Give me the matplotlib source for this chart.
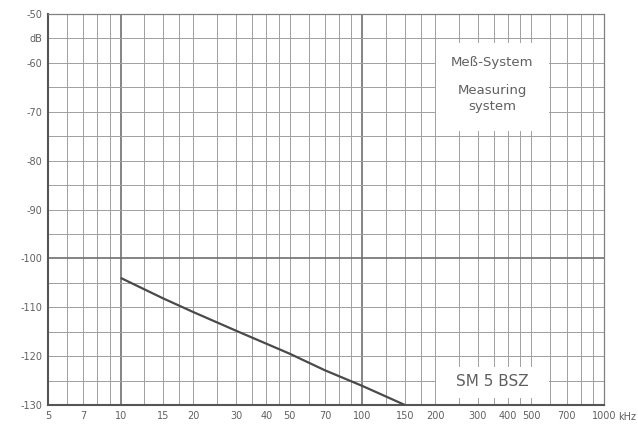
import matplotlib
matplotlib.use("Agg")
import matplotlib.pyplot as plt
from matplotlib.patches import Rectangle

# ---- data ----
freq_khz = [10, 15, 20, 30, 50, 70, 100, 150]
level_db = [-104.0, -108.2, -111.0, -114.8, -119.5, -122.9, -126.1, -130.0]

x_tick_vals = [5, 7, 10, 15, 20, 30, 40, 50, 70, 100, 150, 200, 300, 400, 500, 700, 1000]
x_tick_labels = ["5", "7", "10", "15", "20", "30", "40", "50", "70", "100", "150",
                 "200", "300", "400", "500", "700", "1000"]
x_grid_vals = [6, 7, 8, 9, 10, 12.5, 15, 17.5, 20, 25, 30, 35, 40, 45, 50, 60, 70, 80, 90,
               100, 125, 150, 175, 200, 250, 300, 350, 400, 450, 500, 600, 700, 800, 900]
y_tick_vals = list(range(-130, -45, 5))
y_tick_labels = ["-130", "", "-120", "", "-110", "", "-100", "", "-90", "", "-80", "",
                 "-70", "", "-60", "dB", "-50"]

label1_top = "Meß-System"
label1_bottom = "Measuring\nsystem"
label2 = "SM 5 BSZ"

# ---- figure ----
fig = plt.figure(figsize=(6.38, 4.24), dpi=100)
ax = fig.add_axes([48 / 638, 1 - 405 / 424, (604 - 48) / 638, (405 - 14) / 424])
ax.set_xscale("log")
ax.set_xlim(5, 1000)
ax.set_ylim(-130, -50)

grid_c = "#a0a0a0"
thick_c = "#707070"
for f in x_grid_vals:
    thick = f in (10, 100)
    ax.axvline(f, color=thick_c if thick else grid_c, lw=1.2 if thick else 0.7, zorder=1)
for y in y_tick_vals:
    thick = y == -100
    ax.axhline(y, color=thick_c if thick else grid_c, lw=1.2 if thick else 0.7, zorder=1)

# white label boxes
for (y0, y1) in [(-74, -56), (-128.6, -122.2)]:
    ax.add_patch(Rectangle((202, y0), 594 - 202, y1 - y0, facecolor="white",
                           edgecolor="none", zorder=2))

ax.plot(freq_khz, level_db, color="#4a4a4a", lw=1.6, zorder=3, solid_capstyle="butt")

ax.set_xticks(x_tick_vals)
ax.set_xticklabels(x_tick_labels)
ax.xaxis.set_minor_locator(matplotlib.ticker.NullLocator())
ax.set_yticks(y_tick_vals)
ax.set_yticklabels(y_tick_labels)
ax.tick_params(axis="both", length=0, labelsize=7, labelcolor="#606060")
ax.tick_params(axis="x", pad=4)
ax.tick_params(axis="y", pad=4)

for side in ("left", "bottom"):
    ax.spines[side].set_color("#555555")
    ax.spines[side].set_linewidth(1.5)
for side in ("top", "right"):
    ax.spines[side].set_color("#808080")
    ax.spines[side].set_linewidth(0.9)

ax.text(344, -60, label1_top, ha="center", va="center", fontsize=9.5, color="#606060", zorder=4)
ax.text(344, -67.3, label1_bottom, ha="center", va="center", fontsize=9.5, color="#606060",
        linespacing=1.25, zorder=4)
ax.text(344, -125.2, label2, ha="center", va="center", fontsize=11, color="#606060", zorder=4)

fig.text(618 / 638, 1 - 417 / 424, "kHz", ha="left", va="center", fontsize=7, color="#606060")

fig.savefig("out.png", dpi=100, facecolor="white")
